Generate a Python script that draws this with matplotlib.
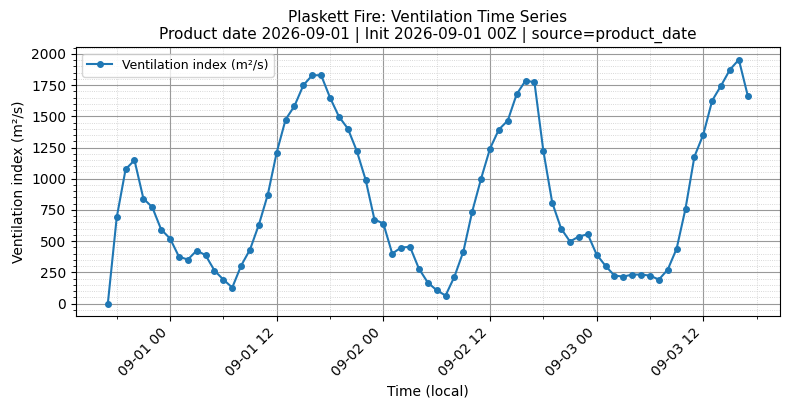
import numpy as np
import pandas as pd
import matplotlib
matplotlib.use("Agg")
import matplotlib.pyplot as plt
import matplotlib.dates as mdates
from matplotlib.ticker import MultipleLocator

# %% data (hourly, local time)
start_time = "2026-08-31 17:00"
n_hours = 73
vent_index = [
    0, 690, 1076, 1148, 841, 772, 593, 521, 376, 352, 425, 387, 264, 192, 128,
    304, 433, 633, 873, 1210, 1474, 1583, 1749, 1829,
    1829, 1650, 1498, 1402, 1225, 993, 673, 641, 400, 449, 454, 280, 168, 107,
    64, 216, 416, 737, 1001, 1241, 1394, 1466, 1677, 1786, 1773,
    1225, 809, 601, 497, 537, 555, 392, 302, 224, 216, 232, 232, 224, 192,
    272, 440, 761, 1177, 1354, 1626, 1746, 1874, 1954, 1666,
]
times = pd.date_range(start_time, periods=n_hours, freq="h")

title = ("Plaskett Fire: Ventilation Time Series\n"
         "Product date 2026-09-01 | Init 2026-09-01 00Z | source=product_date")

# %% plot
fig, ax = plt.subplots(figsize=(7.9, 4.09), dpi=100)
ax.plot(times, vent_index, 'o-', color='#1f77b4', markersize=4, linewidth=1.5,
        label='Ventilation index (m²/s)')

ax.xaxis.set_major_locator(mdates.HourLocator(byhour=[0, 12]))
ax.xaxis.set_minor_locator(mdates.HourLocator(byhour=[6, 18]))
ax.xaxis.set_major_formatter(mdates.DateFormatter('%m-%d %H'))
ax.yaxis.set_major_locator(MultipleLocator(250))
ax.yaxis.set_minor_locator(MultipleLocator(50))

ax.grid(which='major', color='#999999', linewidth=0.8)
ax.grid(which='minor', color='#cccccc', linestyle=':', linewidth=0.6)

plt.setp(ax.get_xticklabels(), rotation=45, ha='right')
ax.set_xlabel('Time (local)')
ax.set_ylabel('Ventilation index (m²/s)')
ax.set_title(title, fontsize=11)
ax.legend(loc='upper left', fontsize=9)

fig.subplots_adjust(left=0.096, right=0.987, top=0.884, bottom=0.228)
fig.savefig('out.png', dpi=100)
